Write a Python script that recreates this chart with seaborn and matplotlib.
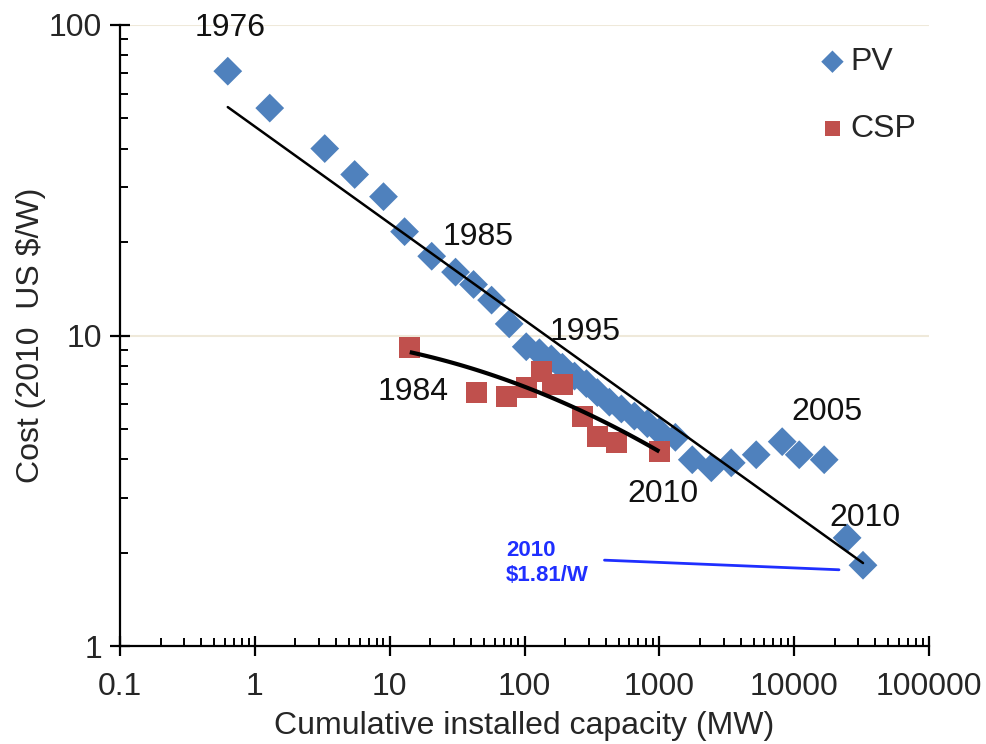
import numpy as np
import pandas as pd
import matplotlib
matplotlib.use("Agg")
import matplotlib.pyplot as plt
import seaborn as sns
from matplotlib.ticker import FixedLocator, FixedFormatter, LogLocator, NullFormatter

# ---- data ----
pv_capacity = [0.63, 1.29, 3.3, 5.5, 9.0, 12.9, 20.5, 30.8, 41.9, 57, 77, 103,
               129, 158, 191, 235, 288, 347, 426, 523, 653, 815, 1000, 1315,
               1755, 2430, 3415, 5230, 8150, 10900, 16700, 24700, 32400]
pv_cost = [71, 54, 40, 33, 28, 21.6, 18, 16, 14.6, 13, 10.9, 9.2,
           8.8, 8.4, 7.9, 7.4, 7.0, 6.55, 6.1, 5.8, 5.5, 5.2, 4.9, 4.7,
           3.98, 3.75, 3.89, 4.13, 4.55, 4.13, 3.98, 2.23, 1.82]

csp_capacity = [14.1, 44, 73.5, 103, 134, 161, 191, 269, 347, 480, 1000]
csp_cost = [9.15, 6.55, 6.36, 6.8, 7.65, 6.95, 6.95, 5.5, 4.72, 4.52, 4.22]

pv_trend_x = [0.63, 32400]
pv_trend_y = [54.4, 1.85]

csp_trend_x = [14.1, 55, 123, 304, 1000]
csp_trend_y = [8.88, 7.38, 6.70, 5.56, 4.22]

note_line_x = [392, 21500]
note_line_y = [1.89, 1.76]

x_ticks = [0.1, 1, 10, 100, 1000, 10000, 100000]
x_ticklabels = ["0.1", "1", "10", "100", "1000", "10000", "100000"]
y_ticks = [1, 10, 100]
y_ticklabels = ["1", "10", "100"]

year_labels = ["1976", "1985", "1995", "1984", "2010", "2005", "2010"]
year_label_x = [0.66, 45, 283, 15, 1070, 17500, 33500]
year_label_y = [98, 20.7, 10.3, 6.6, 3.09, 5.68, 2.59]

pv_color = "#4f81bd"
csp_color = "#c0504d"

sns.set_theme(style="white")
plt.rcParams['font.family'] = ['Liberation Sans', 'DejaVu Sans']

fig = plt.figure(figsize=(9.86, 7.44), dpi=100)
ax = fig.add_axes([120/986, 1-646/744, (929-120)/986, (646-25)/744])

ax.set_xscale("log")
ax.set_yscale("log")
ax.set_xlim(0.1, 100000)
ax.set_ylim(1, 100)

# gridlines at major y
for yv in y_ticks[1:]:
    ax.axhline(yv, color="#efe9da", lw=1.5, zorder=0)

pv_df = pd.DataFrame({"x": pv_capacity, "y": pv_cost})
csp_df = pd.DataFrame({"x": csp_capacity, "y": csp_cost})

sns.scatterplot(data=pv_df, x="x", y="y", marker="D", s=215, color=pv_color,
                edgecolor="none", linewidth=0, ax=ax, zorder=3, label="PV")
sns.scatterplot(data=csp_df, x="x", y="y", marker="s", s=225, color=csp_color,
                edgecolor="none", linewidth=0, ax=ax, zorder=4, label="CSP")

# PV experience-curve line
ax.plot(pv_trend_x, pv_trend_y, color="black", lw=1.8, zorder=5)

# CSP curve (quadratic fit in log-log space through the read points)
lx = np.log10(csp_trend_x)
ly = np.log10(csp_trend_y)
coef = np.polyfit(lx, ly, 2)
xx = np.linspace(lx.min(), lx.max(), 100)
ax.plot(10**xx, 10**np.polyval(coef, xx), color="black", lw=3.0, zorder=5,
        solid_capstyle="butt")

# annotation line
ax.plot(note_line_x, note_line_y, color="#1f2fff", lw=2.0, zorder=5)
ax.text(73, 1.85, "2010\n\\$1.81/W", color="#1f2fff", fontsize=16, fontweight="bold",
        ha="left", va="center", linespacing=1.3, zorder=6)

for lab, lxp, lyp in zip(year_labels, year_label_x, year_label_y):
    ax.text(lxp, lyp, lab, fontsize=23, ha="center", va="center", color="#111111",
            zorder=6)

# axes styling
for s in ["top", "right"]:
    ax.spines[s].set_visible(False)
for s in ["left", "bottom"]:
    ax.spines[s].set_color("black")
    ax.spines[s].set_linewidth(1.6)

ax.xaxis.set_major_locator(FixedLocator(x_ticks))
ax.xaxis.set_major_formatter(FixedFormatter(x_ticklabels))
ax.yaxis.set_major_locator(FixedLocator(y_ticks))
ax.yaxis.set_major_formatter(FixedFormatter(y_ticklabels))
ax.xaxis.set_minor_locator(LogLocator(base=10, subs=np.arange(2, 10)))
ax.yaxis.set_minor_locator(LogLocator(base=10, subs=np.arange(2, 10)))
ax.xaxis.set_minor_formatter(NullFormatter())
ax.yaxis.set_minor_formatter(NullFormatter())

ax.tick_params(which="major", direction="inout", length=14, width=1.6,
               color="black", labelsize=23, bottom=True, left=True)
ax.tick_params(which="minor", direction="in", length=6, width=1.4,
               color="black", bottom=True, left=True)
ax.tick_params(axis="x", which="major", pad=12)
ax.tick_params(axis="y", which="major", pad=6)

ax.set_xlabel("Cumulative installed capacity (MW)", fontsize=23, labelpad=6)
ax.set_ylabel("Cost (2010  US \\$/W)", fontsize=23, labelpad=2)

leg = ax.legend(loc="upper left", bbox_to_anchor=(0.853, 0.985), frameon=False,
                fontsize=23, handlelength=0.6, handletextpad=0.25,
                labelspacing=1.15, borderaxespad=0)
for h in leg.legend_handles:
    h.set_sizes([130])

fig.savefig("out.png", dpi=100)
